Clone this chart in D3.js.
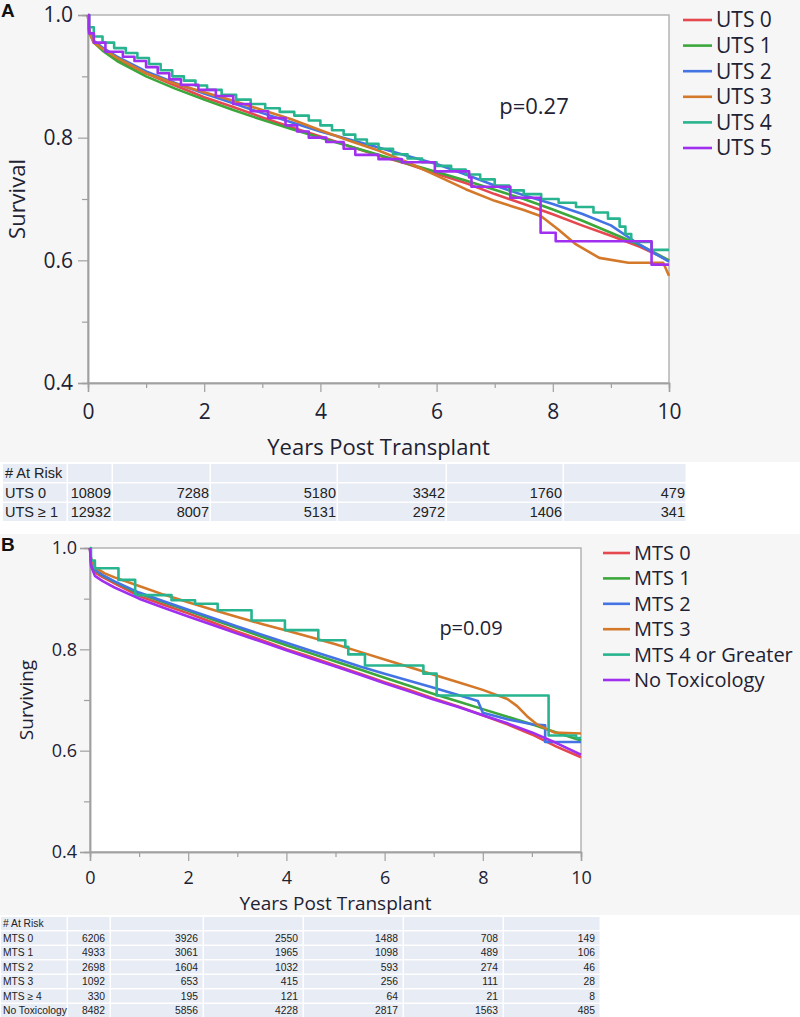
<!DOCTYPE html>
<html>
<head>
<meta charset="utf-8">
<script src="https://cdn.jsdelivr.net/npm/d3@7"></script>
<style>
  body { margin: 0; background: #fff; }
  svg { display: block; font-family: "Open Sans", "Noto Sans", sans-serif; }
</style>
</head>
<body>
<svg id="chart"></svg>
<script>
// ---- data ----
var xMajor = [0, 2, 4, 6, 8, 10];
var xMinor = [1, 3, 5, 7, 9];
var yMajor = [0.4, 0.6, 0.8, 1.0];
var yMinor = [0.5, 0.7, 0.9];

var utsNames = ["UTS 0", "UTS 1", "UTS 2", "UTS 3", "UTS 4", "UTS 5"];
var mtsNames = ["MTS 0", "MTS 1", "MTS 2", "MTS 3", "MTS 4 or Greater", "No Toxicology"];
var colors = ["#e5484f", "#3ca83c", "#4474e4", "#d4792a", "#27b48e", "#a02ff0"];

// panel A curves  [years, survival]
var uts0 = [[0,1],[0.02,0.975],[0.1,0.957],[0.25,0.945],[0.5,0.928],[1,0.905],[1.5,0.885],[2,0.866],[2.5,0.85],[3,0.833],[3.5,0.817],[4,0.802],[4.5,0.786],[5,0.771],[5.5,0.757],[6,0.741],[6.5,0.726],[7,0.708],[7.5,0.692],[8,0.675],[8.5,0.657],[9,0.64],[9.5,0.622],[10,0.6]];
var uts1 = [[0,1],[0.02,0.972],[0.1,0.955],[0.25,0.942],[0.5,0.925],[1,0.9],[1.5,0.88],[2,0.862],[2.5,0.845],[3,0.829],[3.5,0.814],[4,0.8],[4.5,0.786],[5,0.772],[5.5,0.758],[6,0.744],[6.5,0.73],[7,0.715],[7.5,0.7],[8,0.683],[8.5,0.665],[9,0.645],[9.5,0.625],[10,0.6]];
var uts2 = [[0,1],[0.02,0.975],[0.1,0.958],[0.25,0.947],[0.5,0.932],[1,0.908],[1.5,0.889],[2,0.872],[2.5,0.856],[3,0.84],[3.5,0.825],[4,0.81],[4.5,0.797],[5,0.784],[5.5,0.77],[6,0.757],[6.5,0.74],[7,0.722],[7.5,0.706],[8,0.692],[8.5,0.676],[9,0.657],[9.5,0.625],[10,0.598]];
var uts3 = [[0,1],[0.02,0.972],[0.1,0.955],[0.25,0.945],[0.5,0.93],[1,0.905],[1.5,0.888],[2,0.874],[2.5,0.86],[3,0.845],[3.5,0.83],[4,0.812],[4.5,0.795],[5,0.779],[5.5,0.76],[6,0.738],[6.5,0.716],[7,0.697],[7.5,0.682],[7.8,0.672],[8.1,0.65],[8.4,0.626],[8.8,0.604],[9.3,0.596],[9.9,0.596],[10,0.575]];
var uts4 = [[0,1],[0.02,0.98],[0.1,0.965],[0.25,0.955],[0.45,0.946],[0.65,0.938],[0.85,0.93],[1.05,0.92],[1.25,0.91],[1.45,0.9],[1.65,0.893],[1.85,0.885],[2.05,0.878],[2.3,0.87],[2.55,0.862],[2.8,0.855],[3.05,0.848],[3.3,0.842],[3.55,0.836],[3.8,0.828],[4.0,0.82],[4.2,0.812],[4.4,0.805],[4.6,0.797],[4.8,0.79],[5.0,0.782],[5.25,0.773],[5.5,0.766],[5.75,0.76],[6.0,0.754],[6.25,0.748],[6.5,0.74],[6.75,0.732],[7.0,0.722],[7.25,0.714],[7.5,0.708],[7.8,0.7],[8.1,0.694],[8.4,0.687],[8.7,0.678],[8.95,0.668],[9.15,0.655],[9.25,0.643],[9.35,0.63],[9.7,0.617],[10,0.617]];
var uts5 = [[0,1],[0.02,0.97],[0.1,0.955],[0.3,0.94],[0.6,0.932],[0.8,0.925],[1.0,0.915],[1.2,0.905],[1.4,0.895],[1.6,0.886],[1.9,0.878],[2.2,0.868],[2.5,0.855],[2.8,0.843],[3.1,0.832],[3.4,0.82],[3.6,0.81],[3.8,0.8],[4.1,0.793],[4.4,0.782],[4.6,0.772],[5.0,0.765],[5.4,0.76],[5.97,0.745],[6.56,0.735],[6.6,0.72],[7.27,0.702],[7.79,0.645],[8.05,0.631],[9.7,0.631],[9.7,0.593],[10,0.593]];

// panel B curves
var mts0 = [[0,1],[0.02,0.97],[0.1,0.952],[0.25,0.943],[0.5,0.93],[1,0.905],[1.5,0.888],[2,0.871],[2.5,0.853],[3,0.835],[3.5,0.818],[4,0.8],[4.5,0.785],[5,0.768],[5.5,0.752],[6,0.735],[6.5,0.72],[7,0.703],[7.5,0.687],[8,0.67],[8.5,0.652],[9,0.632],[9.5,0.608],[10,0.587]];
var mts1 = [[0,1],[0.02,0.975],[0.1,0.957],[0.25,0.946],[0.5,0.933],[1,0.91],[1.5,0.893],[2,0.876],[2.5,0.859],[3,0.842],[3.5,0.825],[4,0.808],[4.5,0.792],[5,0.776],[5.5,0.76],[6,0.744],[6.5,0.728],[7,0.712],[7.5,0.697],[8,0.682],[8.5,0.667],[9,0.652],[9.5,0.636],[10,0.62]];
var mts2 = [[0,1],[0.02,0.976],[0.1,0.958],[0.25,0.947],[0.5,0.934],[1,0.912],[1.5,0.895],[2,0.878],[2.5,0.862],[3,0.845],[3.5,0.829],[4,0.813],[4.5,0.797],[5,0.782],[5.5,0.766],[6,0.752],[6.5,0.738],[7,0.724],[7.5,0.71],[7.9,0.698],[8.0,0.675],[8.5,0.662],[9,0.652],[9.27,0.65],[9.27,0.617],[10,0.617]];
var mts3 = [[0,1],[0.02,0.98],[0.1,0.962],[0.3,0.95],[0.5,0.942],[1,0.925],[1.5,0.908],[2,0.893],[2.5,0.878],[3,0.864],[3.5,0.85],[4,0.837],[4.5,0.824],[5,0.81],[5.5,0.795],[6,0.78],[6.5,0.765],[7,0.75],[7.5,0.735],[8,0.72],[8.5,0.702],[8.7,0.688],[8.9,0.668],[9.1,0.652],[9.45,0.636],[10,0.634]];
var mts4 = [[0,1],[0.02,0.975],[0.1,0.96],[0.58,0.937],[0.92,0.907],[1.66,0.897],[2.14,0.89],[2.6,0.877],[3.29,0.857],[3.97,0.838],[4.65,0.818],[5.2,0.805],[5.26,0.79],[5.6,0.768],[6.79,0.752],[7.06,0.709],[9.34,0.63],[9.9,0.625],[10,0.625]];
var noTox = [[0,1],[0.02,0.965],[0.1,0.945],[0.25,0.935],[0.5,0.922],[1,0.9],[1.5,0.882],[2,0.865],[2.5,0.848],[3,0.831],[3.5,0.815],[4,0.798],[4.5,0.782],[5,0.766],[5.5,0.75],[6,0.733],[6.5,0.717],[7,0.701],[7.5,0.686],[8,0.67],[8.5,0.654],[9,0.636],[9.5,0.615],[10,0.592]];

// at-risk tables
var riskA = ["UTS 0", "UTS \u2265 1"];
var riskAValues = [[10809, 7288, 5180, 3342, 1760, 479], [12932, 8007, 5131, 2972, 1406, 341]];
var riskB = ["MTS 0", "MTS 1", "MTS 2", "MTS 3", "MTS \u2265 4", "No Toxicology"];
var riskBValues = [
  [6206, 3926, 2550, 1488, 708, 149],
  [4933, 3061, 1965, 1098, 489, 106],
  [2698, 1604, 1032, 593, 274, 46],
  [1092, 653, 415, 256, 111, 28],
  [330, 195, 121, 64, 21, 8],
  [8482, 5856, 4228, 2817, 1563, 485]
];

var width = 800, height = 1017;
var textColor = "#1e2233";

var svg = d3.select("#chart").attr("width", width).attr("height", height);

function drawPanel(p) {
  var g = svg.append("g");
  g.append("rect").attr("x", 0).attr("y", p.bgTop).attr("width", width)
    .attr("height", p.bgBottom - p.bgTop).attr("fill", "#f6f6f6");

  var x = d3.scaleLinear().domain([0, 10]).range([p.left, p.right]);
  var y = d3.scaleLinear().domain([0.4, 1.0]).range([p.bottom, p.top]);

  g.append("rect").attr("x", p.left).attr("y", p.top)
    .attr("width", p.right - p.left).attr("height", p.bottom - p.top)
    .attr("fill", "#fff").attr("stroke", "#b4b4b4").attr("stroke-width", 1.5);

  // minor ticks
  var ym = g.append("g").attr("transform", "translate(" + p.left + ",0)")
    .call(d3.axisLeft(y).tickValues(yMinor).tickSize(6).tickFormat(""));
  var xm = g.append("g").attr("transform", "translate(0," + p.bottom + ")")
    .call(d3.axisBottom(x).tickValues(xMinor).tickSize(5).tickFormat(""));

  var ya = g.append("g").attr("transform", "translate(" + p.left + ",0)")
    .call(d3.axisLeft(y).tickValues(yMajor).tickSize(10).tickPadding(p.yPad).tickFormat(d3.format(".1f")));
  var xa = g.append("g").attr("transform", "translate(0," + p.bottom + ")")
    .call(d3.axisBottom(x).tickValues(xMajor).tickSize(9).tickPadding(p.xPad).tickFormat(d3.format("d")));

  [ym, xm, ya, xa].forEach(function(a) {
    a.select(".domain").attr("stroke", "#a0a0a0").attr("stroke-width", 1.5);
    a.selectAll(".tick line").attr("stroke", "#a0a0a0").attr("stroke-width", 1.2);
    a.selectAll("text").attr("fill", textColor).attr("font-size", p.tickFont)
      .attr("font-family", "'Open Sans', sans-serif");
  });

  var line = d3.line().x(function(d) { return x(d[0]); }).y(function(d) { return y(d[1]); });

  p.series.forEach(function(s, i) {
    g.append("path").datum(s)
      .attr("fill", "none")
      .attr("stroke", colors[i])
      .attr("stroke-width", 2.6)
      .attr("stroke-linejoin", "round")
      .attr("d", line.curve(p.steps[i] ? d3.curveStepAfter : d3.curveLinear));
  });

  g.append("text").attr("x", (p.left + p.right) / 2).attr("y", p.xLabelY)
    .attr("text-anchor", "middle").attr("font-size", p.labelFont).attr("fill", textColor)
    .text("Years Post Transplant");
  g.append("text")
    .attr("transform", "translate(" + p.yLabelX + "," + (p.top + p.bottom) / 2 + ") rotate(-90)")
    .attr("text-anchor", "middle").attr("dy", "0.35em")
    .attr("font-size", p.labelFont).attr("fill", textColor)
    .text(p.yTitle);

  g.append("text").attr("x", p.pX).attr("y", p.pY).attr("dy", "0.35em")
    .attr("text-anchor", "middle").attr("font-size", p.pFont).attr("fill", textColor)
    .text(p.pText);

  g.append("text").attr("x", 1).attr("y", p.bgTop + 17)
    .attr("font-size", 19).attr("font-weight", "bold")
    .attr("font-family", "'Liberation Sans', Arial, sans-serif")
    .attr("fill", "#111").text(p.tag);

  // legend
  var lg = g.selectAll(".leg").data(p.names).enter().append("g")
    .attr("transform", function(d, i) { return "translate(" + p.legX + "," + (p.legY + i * p.legStep) + ")"; });
  lg.append("line").attr("x1", 0).attr("x2", p.legLine).attr("y1", 0).attr("y2", 0)
    .attr("stroke", function(d, i) { return colors[i]; }).attr("stroke-width", 2.6);
  lg.append("text").attr("x", p.legLine + 4).attr("dy", "0.35em")
    .attr("font-size", p.legFont).attr("fill", textColor)
    .text(function(d) { return d; });
}

function drawTable(t) {
  var g = svg.append("g").attr("font-family", "'Liberation Sans', Arial, sans-serif")
    .attr("font-size", t.font).attr("fill", "#222");
  var rows = [["# At Risk", "", "", "", "", "", ""]];
  t.labels.forEach(function(l, i) { rows.push([l].concat(t.values[i])); });
  rows.forEach(function(r, ri) {
    var yTop = t.top + ri * t.rowH;
    r.forEach(function(v, ci) {
      var x0 = t.cols[ci], x1 = t.cols[ci + 1];
      g.append("rect").attr("x", x0).attr("y", yTop).attr("width", x1 - x0 - 1.5)
        .attr("height", t.rowH - 1.5).attr("fill", "#e8ecf5");
      if (v === "") return;
      g.append("text")
        .attr("x", ci === 0 ? x0 + 2 : x1 - t.pad)
        .attr("y", yTop + (t.rowH - 1.5) / 2).attr("dy", "0.35em")
        .attr("text-anchor", ci === 0 ? "start" : "end")
        .text(v);
    });
  });
}

drawPanel({
  tag: "A", bgTop: 0, bgBottom: 462,
  left: 88, right: 669, top: 15, bottom: 383,
  tickFont: 21, labelFont: 22, yPad: 5, xPad: 12,
  xLabelY: 455, yLabelX: 17, yTitle: "Survival",
  pText: "p=0.27", pX: 534, pY: 106, pFont: 22,
  series: [uts0, uts1, uts2, uts3, uts4, uts5],
  steps: [false, false, false, false, true, true],
  names: utsNames, legX: 683, legY: 20, legStep: 25.6, legLine: 29, legFont: 21
});

drawTable({
  labels: riskA, values: riskAValues, top: 464, rowH: 19.5, font: 14.5, pad: 2,
  cols: [3, 68, 113, 211, 338, 447, 564, 687]
});

drawPanel({
  tag: "B", bgTop: 534, bgBottom: 915,
  left: 90, right: 581, top: 548, bottom: 852,
  tickFont: 18, labelFont: 19, yPad: 3, xPad: 10,
  xLabelY: 910, yLabelX: 26, yTitle: "Surviving",
  pText: "p=0.09", pX: 471, pY: 628, pFont: 20,
  series: [mts0, mts1, mts2, mts3, mts4, noTox],
  steps: [false, false, false, false, true, false],
  names: mtsNames, legX: 603, legY: 553, legStep: 25.4, legLine: 27, legFont: 20
});

drawTable({
  labels: riskB, values: riskBValues, top: 917, rowH: 14.5, font: 10.3, pad: 6,
  cols: [1, 68, 111, 204, 304, 404, 504, 601]
});
</script>
</body>
</html>
